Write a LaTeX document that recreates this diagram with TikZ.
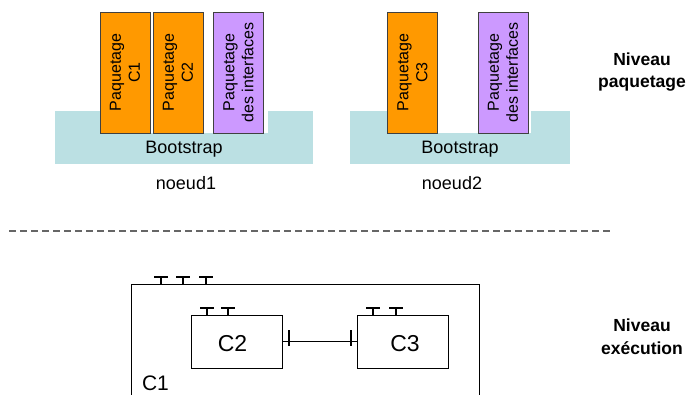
\documentclass[tikz,border=0pt]{standalone}
\usepackage{fontspec}
\setmainfont{Liberation Sans}
\usepackage{tikz}
\definecolor{pkgorange}{RGB}{255,153,0}
\definecolor{pkgviolet}{RGB}{204,153,255}
\definecolor{bootcyan}{RGB}{187,224,227}
\tikzset{
  every package/.style={
    draw=black!75,
    line width=0.7pt,
    rotate=90,
    minimum width=121pt,
    minimum height=50pt,
    inner sep=0pt,
    align=center,
    font=\fontsize{16}{19}\selectfont
  },
  every boot/.style={
    fill=bootcyan,
    inner sep=0pt,
    minimum height=53pt
  },
  every comp/.style={
    draw,
    line width=0.8pt,
    minimum width=91pt,
    minimum height=53pt
  },
  every port/.style={
    line width=1.6pt
  },
  every level/.style={
    align=center,
    font=\fontsize{17.5}{22.5}\selectfont\bfseries
  }
}

\begin{document}
\begin{tikzpicture}[x=1pt, y=-1pt]
  \useasboundingbox (0,0) rectangle (688,394);
  \clip (0,0) rectangle (688,394);

  % Node placement
  \node [every boot, minimum width=258pt] (B1) at (184,137.5) {};
  \node [every boot, minimum width=220pt] (B2) at (460,137.5) {};
  \node [fill=white, inner sep=0pt, minimum width=168pt, minimum height=22pt] (W1) at (184,122) {};
  \node [fill=white, inner sep=0pt, minimum width=143pt, minimum height=22pt] (W2) at (459.5,122) {};

  \node [every package, fill=pkgorange] (P1) at (125,72.5) {Paquetage\\C1};
  \node [every package, fill=pkgorange] (P2) at (178,72.5) {Paquetage\\C2};
  \node [every package, fill=pkgviolet] (PI1) at (238.5,72.5) {Paquetage\\des interfaces};
  \node [every package, fill=pkgorange] (P3) at (412.5,72.5) {Paquetage\\C3};
  \node [every package, fill=pkgviolet] (PI2) at (503,72.5) {Paquetage\\des interfaces};

  \node (BT1) at (184,149.5) [font=\fontsize{18}{18}\selectfont] {Bootstrap};
  \node (BT2) at (460,149.5) [font=\fontsize{18}{18}\selectfont] {Bootstrap};
  \node (N1) at (186,183) [font=\fontsize{18}{18}\selectfont] {noeud1};
  \node (N2) at (452,183) [font=\fontsize{18}{18}\selectfont] {noeud2};

  \node [every level] (LP) at (642,72) {Niveau\\paquetage};
  \node [every level] (LE) at (642,336.5) {Niveau\\exécution};

  \coordinate (DL) at (9,231);
  \coordinate (DR) at (612,231);

  \node [draw, line width=0.9pt, anchor=north west, minimum width=348pt, minimum height=130pt] (C1) at (131,284) {};
  \node (C1t) at (155.5,383) [font=\fontsize{21}{21}\selectfont] {C1};
  \node [every comp] (C2) at (236.5,341.5) {};
  \node [every comp] (C3) at (402.5,341.5) {};
  \node (C2t) at (232.5,343.5) [font=\fontsize{23}{23}\selectfont] {C2};
  \node (C3t) at (405,343.5) [font=\fontsize{23}{23}\selectfont] {C3};

  % Separator
  \draw [black!60, line width=1.5pt, dash pattern=on 7pt off 4pt] (DL) -- (DR);

  % Ports
  \draw [every port] (161,284) -- (161,277) (154,277) -- (168,277);
  \draw [every port] (183,284) -- (183,277) (176,277) -- (190,277);
  \draw [every port] (206,284) -- (206,277) (199,277) -- (213,277);
  \draw [every port] (207,315) -- (207,308) (200,308) -- (214,308);
  \draw [every port] (228,315) -- (228,308) (221,308) -- (235,308);
  \draw [every port] (373,315) -- (373,308) (366,308) -- (380,308);
  \draw [every port] (396,315) -- (396,308) (389,308) -- (403,308);

  % Link
  \draw [line width=0.5pt] (C2.east) -- (C3.west);
  \draw [line width=1.2pt] (289,330) -- (289,346);
  \draw [line width=1.2pt] (351,330) -- (351,346);
\end{tikzpicture}
\end{document}
